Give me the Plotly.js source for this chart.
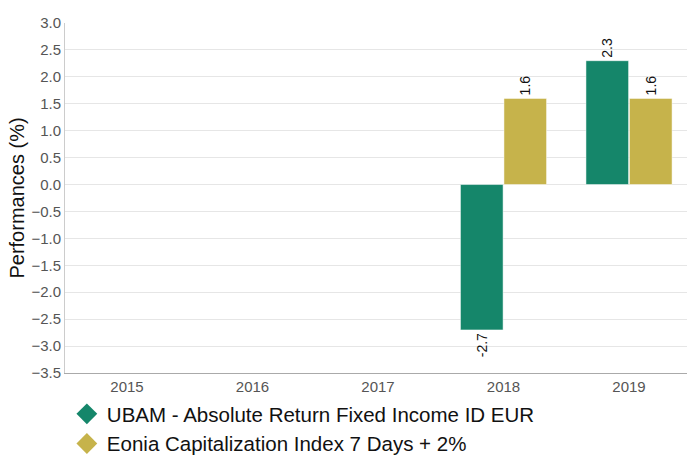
<!DOCTYPE html>
<html>
<head>
<meta charset="utf-8">
<script src="https://cdn.plot.ly/plotly-3.0.1.min.js"></script>
<style>html,body{margin:0;padding:0;background:#fff}#chart{width:687px;height:457px}</style>
</head>
<body>
<div id="chart"></div>
<script>
const years = ['2015', '2016', '2017', '2018', '2019'];
const fundName = 'UBAM - Absolute Return Fixed Income ID EUR';
const indexName = 'Eonia Capitalization Index 7 Days + 2%';
const fundValues = [null, null, null, -2.7, 2.3];
const indexValues = [null, null, null, 1.6, 1.6];
const fundColor = '#15866A';
const indexColor = '#C6B34B';

const fmt = v => v === null ? '' : v.toFixed(1);

const traces = [
  {
    type: 'bar', x: years, y: fundValues, name: fundName, showlegend: false,
    marker: {color: fundColor, line: {color: '#ffffff', width: 0.5}},
    text: fundValues.map(fmt), textposition: 'outside', textangle: -90,
    textfont: {family: 'Liberation Sans, Arial, sans-serif', size: 14, color: '#111'},
    cliponaxis: false, hoverinfo: 'none'
  },
  {
    type: 'bar', x: years, y: indexValues, name: indexName, showlegend: false,
    marker: {color: indexColor, line: {color: '#ffffff', width: 0.5}},
    text: indexValues.map(fmt), textposition: 'outside', textangle: -90,
    textfont: {family: 'Liberation Sans, Arial, sans-serif', size: 14, color: '#111'},
    cliponaxis: false, hoverinfo: 'none'
  },
  {
    type: 'scatter', mode: 'markers', x: [null], y: [null], name: fundName,
    marker: {symbol: 'diamond', size: 20, color: fundColor}
  },
  {
    type: 'scatter', mode: 'markers', x: [null], y: [null], name: indexName,
    marker: {symbol: 'diamond', size: 20, color: indexColor}
  }
];

const layout = {
  width: 687, height: 457,
  margin: {l: 65, r: 0, t: 23, b: 84, autoexpand: false},
  paper_bgcolor: '#fff', plot_bgcolor: '#fff',
  font: {family: 'Liberation Sans, Arial, sans-serif', color: '#555'},
  barmode: 'group', bargap: 0.307, bargroupgap: 0.02,
  showlegend: true,
  legend: {
    orientation: 'v',
    x: 0.003, xanchor: 'left', y: -0.06, yanchor: 'top',
    font: {size: 20.5, color: '#111'}, tracegroupgap: 0, itemsizing: 'trace'
  },
  xaxis: {
    type: 'category', range: [-0.494, 4.462], automargin: false,
    showgrid: false, showline: true, linecolor: '#aaa', linewidth: 1,
    ticks: '', tickfont: {size: 15, color: '#555'}, fixedrange: true
  },
  yaxis: {
    range: [-3.5, 3.0], dtick: 0.5, tick0: 0, tickformat: '.1f', automargin: true,
    showgrid: true, gridcolor: '#e6e6e6', gridwidth: 1,
    zeroline: false, showline: true, linecolor: '#ccc', linewidth: 1,
    ticks: '', ticklen: 0, tickfont: {size: 15, color: '#555'},
    title: {text: 'Performances (%)', font: {size: 20, color: '#111'}, standoff: 1},
    fixedrange: true
  }
};

Plotly.newPlot('chart', traces, layout, {displayModeBar: false, staticPlot: true});
</script>
</body>
</html>
